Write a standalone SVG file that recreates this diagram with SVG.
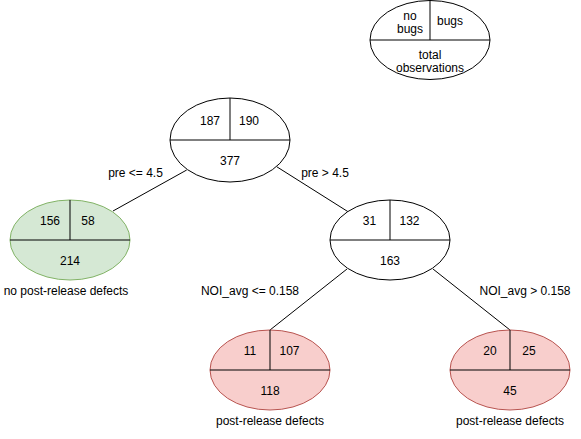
<svg xmlns="http://www.w3.org/2000/svg" width="581" height="439" viewBox="0 0 581 439">
<style>
text{font-family:"Liberation Sans",Arial,sans-serif;font-size:12px;fill:#000;text-anchor:middle;dominant-baseline:central}
.e{stroke:#000;stroke-width:1;fill:#fff}
.g{fill:#d5e8d4;stroke:#82b366}
.r{fill:#f8cecc;stroke:#b85450}
.d{stroke:#000;stroke-width:1;fill:none}
</style>
<rect width="581" height="439" fill="#fff"/>
<g id="connectors" class="d">
<line x1="186.7" y1="170" x2="113" y2="211"/>
<line x1="276.7" y1="166.7" x2="348" y2="211.7"/>
<line x1="347" y1="269" x2="270" y2="330"/>
<line x1="433" y1="269" x2="510" y2="330"/>
</g>
<g id="edge-labels">
<text x="135.5" y="173">pre &lt;= 4.5</text>
<text x="325" y="173">pre &gt; 4.5</text>
<text x="250" y="291">NOI_avg &lt;= 0.158</text>
<text x="525" y="291">NOI_avg &gt; 0.158</text>
</g>
<g id="legend">
<ellipse class="e" cx="430" cy="40" rx="60" ry="39.5"/>
<path class="d" d="M370 40H490M430 0.5V40"/>
<text x="410" y="15.5">no</text>
<text x="410" y="29">bugs</text>
<text x="450" y="21">bugs</text>
<text x="430" y="54.5">total</text>
<text x="430" y="68">observations</text>
</g>
<g id="root">
<ellipse class="e" cx="230" cy="140" rx="60" ry="42"/>
<path class="d" d="M170 140H290M230 98V140"/>
<text x="210" y="121">187</text>
<text x="249" y="121">190</text>
<text x="230" y="161">377</text>
</g>
<g id="leaf-no-defects">
<ellipse class="e g" cx="70" cy="240" rx="60" ry="40"/>
<path class="d" d="M10 240H130M70 200V240"/>
<text x="50" y="221">156</text>
<text x="88" y="221">58</text>
<text x="70" y="261">214</text>
<text x="66" y="291">no post-release defects</text>
</g>
<g id="split-noi">
<ellipse class="e" cx="390" cy="240" rx="60" ry="40"/>
<path class="d" d="M330 240H450M390 200V240"/>
<text x="369.5" y="221">31</text>
<text x="409.5" y="221">132</text>
<text x="390" y="261">163</text>
</g>
<g id="leaf-defects-left">
<ellipse class="e r" cx="270" cy="370" rx="60" ry="40"/>
<path class="d" d="M210 370H330M270 330V370"/>
<text x="250" y="351">11</text>
<text x="289.5" y="351">107</text>
<text x="270" y="391">118</text>
<text x="270" y="421">post-release defects</text>
</g>
<g id="leaf-defects-right">
<ellipse class="e r" cx="510" cy="370" rx="60" ry="40"/>
<path class="d" d="M450 370H570M510 330V370"/>
<text x="490" y="351">20</text>
<text x="529" y="351">25</text>
<text x="510" y="391">45</text>
<text x="510" y="421">post-release defects</text>
</g>
</svg>
